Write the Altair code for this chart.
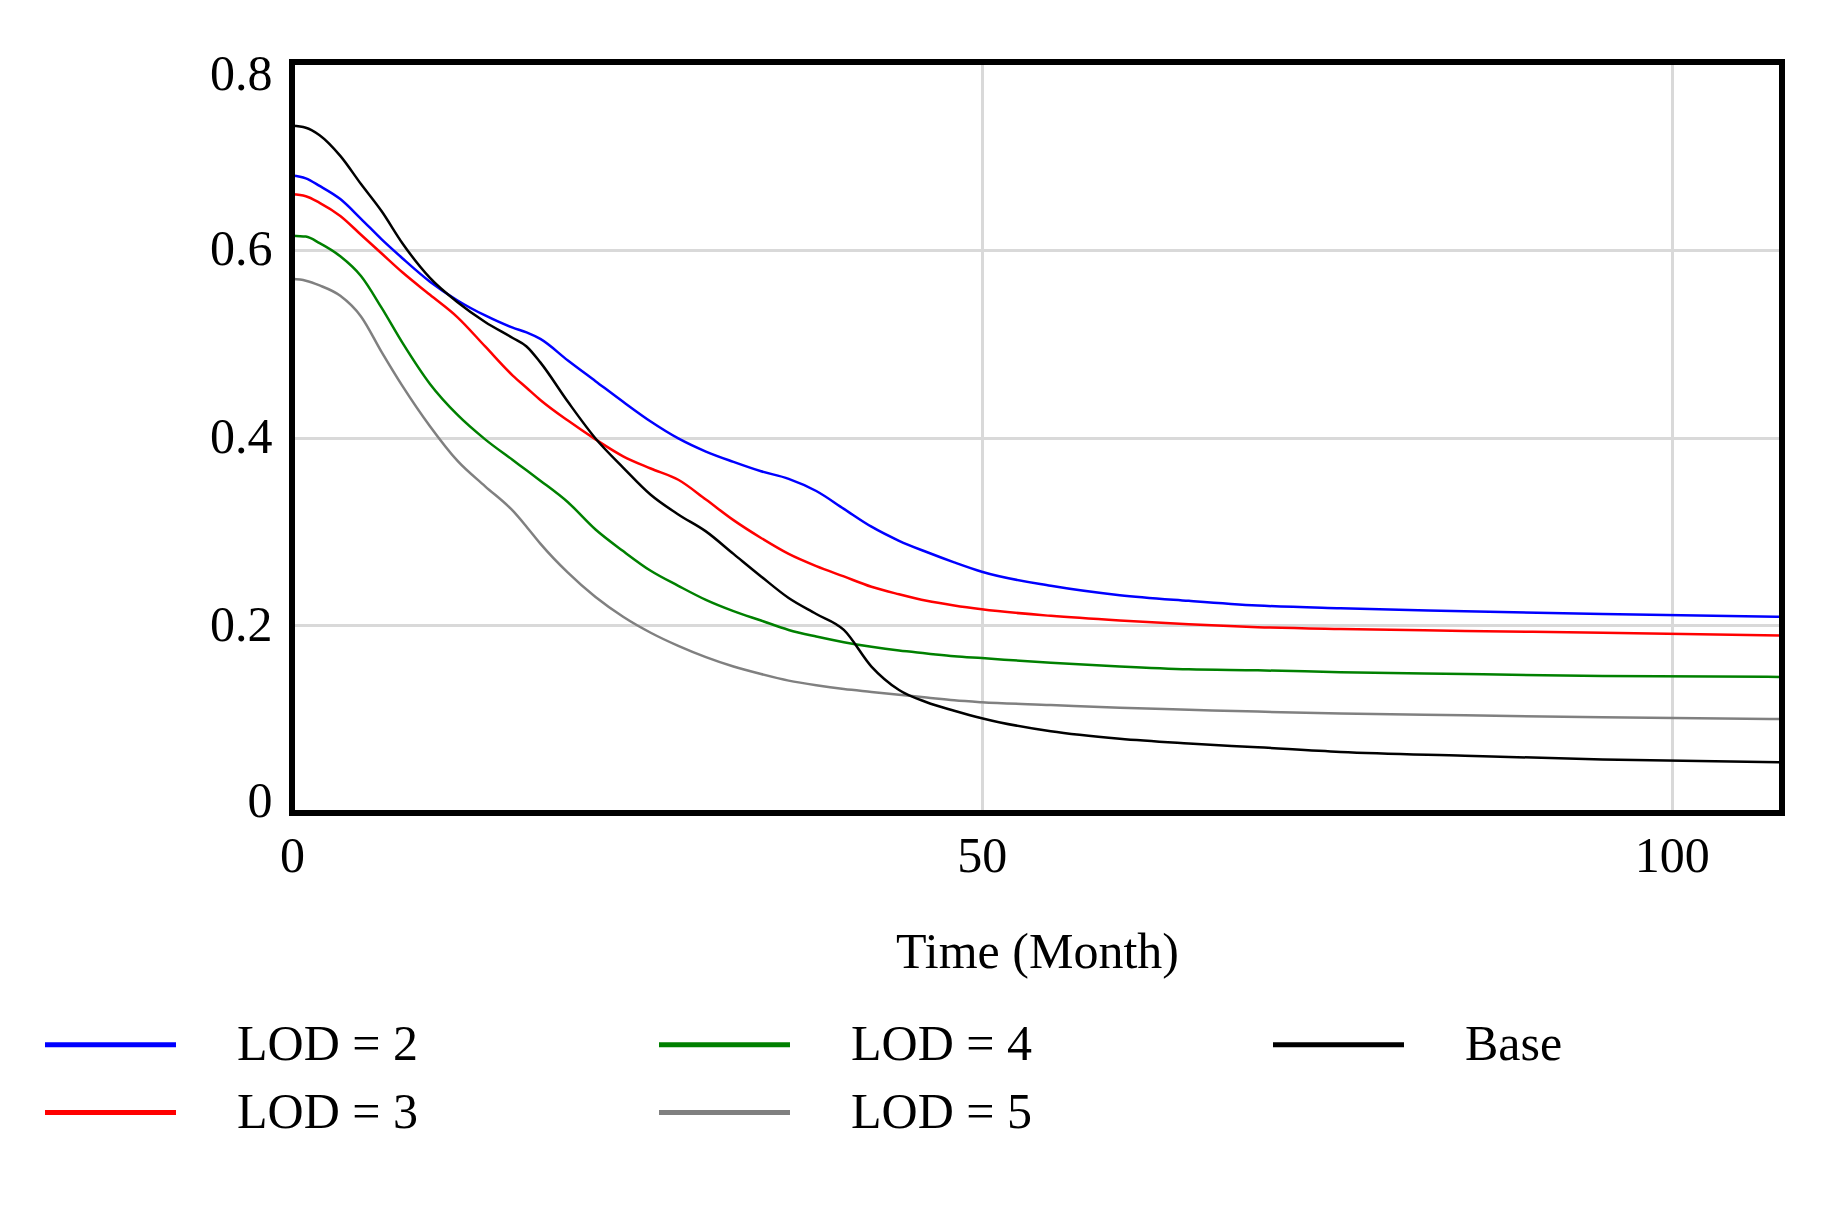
import altair as alt
import pandas as pd

# Time grid (months)
time = [0, 1, 2, 3.5, 5, 6.5, 8, 10, 12, 14, 16, 17, 18, 20, 22, 24, 26, 28, 30,
        32, 34, 36, 38, 40, 42, 44, 46, 48, 50, 55, 60, 65, 70, 76, 85, 95, 108]

lod2 = [0.679, 0.676, 0.668, 0.654, 0.633, 0.611, 0.591, 0.566, 0.546, 0.530, 0.517,
        0.512, 0.505, 0.482, 0.460, 0.438, 0.417, 0.399, 0.385, 0.374, 0.364, 0.356,
        0.343, 0.324, 0.305, 0.290, 0.278, 0.267, 0.257, 0.242, 0.232, 0.226, 0.221,
        0.218, 0.215, 0.212, 0.209]

lod3 = [0.659, 0.657, 0.650, 0.636, 0.616, 0.596, 0.576, 0.552, 0.528, 0.497, 0.466,
        0.453, 0.440, 0.418, 0.398, 0.380, 0.367, 0.355, 0.334, 0.312, 0.293, 0.276,
        0.263, 0.252, 0.241, 0.233, 0.226, 0.221, 0.217, 0.210, 0.205, 0.201, 0.198,
        0.196, 0.194, 0.192, 0.189]

lod4 = [0.615, 0.614, 0.607, 0.593, 0.572, 0.538, 0.501, 0.457, 0.424, 0.398, 0.376,
        0.365, 0.354, 0.331, 0.302, 0.279, 0.258, 0.242, 0.227, 0.215, 0.205, 0.195,
        0.188, 0.182, 0.177, 0.173, 0.170, 0.167, 0.165, 0.160, 0.156, 0.153, 0.152,
        0.150, 0.148, 0.146, 0.145]

lod5 = [0.569, 0.567, 0.562, 0.551, 0.529, 0.491, 0.455, 0.412, 0.375, 0.348, 0.322,
        0.305, 0.287, 0.256, 0.230, 0.209, 0.192, 0.178, 0.166, 0.156, 0.148, 0.141,
        0.136, 0.132, 0.129, 0.126, 0.123, 0.120, 0.118, 0.115, 0.112, 0.110, 0.108,
        0.106, 0.104, 0.102, 0.100]

base = [0.732, 0.730, 0.722, 0.700, 0.670, 0.641, 0.607, 0.570, 0.544, 0.523, 0.506,
        0.497, 0.480, 0.438, 0.399, 0.368, 0.339, 0.318, 0.300, 0.276, 0.252, 0.229,
        0.212, 0.195, 0.156, 0.131, 0.118, 0.109, 0.101, 0.087, 0.079, 0.074, 0.070,
        0.065, 0.061, 0.057, 0.054]

series_names = ["LOD = 2", "LOD = 3", "LOD = 4", "LOD = 5", "Base"]
series_colors = ["#0000ff", "#ff0000", "#008000", "#808080", "#000000"]
series_values = [lod2, lod3, lod4, lod5, base]

x_ticks = [0, 50, 100]
y_ticks = [0, 0.2, 0.4, 0.6, 0.8]

rows = []
for name, vals in zip(series_names, series_values):
    for t, v in zip(time, vals):
        rows.append({"Time": t, "Value": v, "Series": name})
df = pd.DataFrame(rows)

FONT = "Liberation Serif"

x_scale = alt.Scale(domain=[0, 108], nice=False, zero=False)
y_scale = alt.Scale(domain=[0, 0.8], nice=False)

lines = alt.Chart(df).mark_line(strokeWidth=2.5, interpolate="monotone").encode(
    x=alt.X("Time:Q", scale=x_scale,
            axis=alt.Axis(title="Time (Month)", values=x_ticks, format="~g",
                          labelFlush=False, ticks=False, domain=False,
                          labelFont=FONT, labelFontSize=50, labelColor="black",
                          labelPadding=18, titleFont=FONT, titleFontSize=50,
                          titleFontWeight="normal", titleColor="black",
                          titlePadding=46, grid=True, gridColor="#d9d9d9",
                          gridWidth=3)),
    y=alt.Y("Value:Q", scale=y_scale,
            axis=alt.Axis(title=None, values=y_ticks, format="~g",
                          labelFlush=True, labelFlushOffset=13, ticks=False,
                          domain=False, labelFont=FONT, labelFontSize=50,
                          labelColor="black", labelPadding=20, grid=True,
                          gridColor="#d9d9d9", gridWidth=3)),
    color=alt.Color("Series:N",
                    scale=alt.Scale(domain=series_names, range=series_colors),
                    legend=alt.Legend(title=None, orient="none", columns=3,
                                      legendX=-217, legendY=947,
                                      symbolType="M-2,0H2", symbolSize=4290,
                                      symbolStrokeWidth=5, labelFont=FONT,
                                      labelFontSize=50, labelColor="black",
                                      labelOffset=91, labelLimit=0,
                                      columnPadding=231, rowPadding=7,
                                      padding=0)),
    detail="Series:N",
)

frame = alt.Chart(pd.DataFrame({"a": [0]})).mark_rect(
    fillOpacity=0, stroke="black", strokeWidth=6
).encode(
    x=alt.datum(0, scale=x_scale),
    x2=alt.datum(108),
    y=alt.datum(0, scale=y_scale),
    y2=alt.datum(0.8),
)

chart = alt.layer(lines, frame).properties(
    width=1490,
    height=751,
    autosize=alt.AutoSizeParams(type="none"),
    padding={"left": 284, "top": 54, "right": 48, "bottom": 380},
).configure_view(stroke=None).configure(background="white")

chart.save("out.html", embed_options={"renderer": "svg", "actions": False})
